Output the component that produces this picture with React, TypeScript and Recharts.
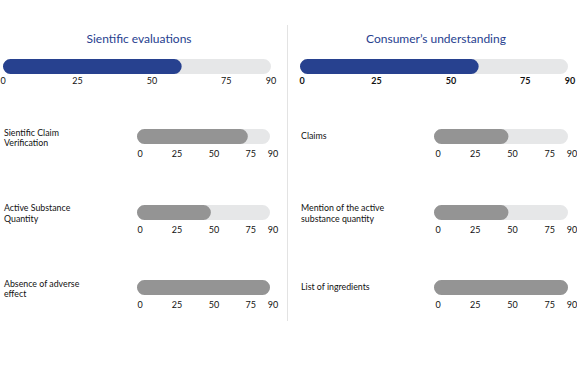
import React from 'react';
import { BarChart, Bar, XAxis, YAxis } from 'recharts';

const panelTitles = ['Sientific evaluations', 'Consumer’s understanding'];
const overallScores = [60, 60];
const leftCategories = ['Sientific Claim\nVerification', 'Active Substance\nQuantity', 'Absence of adverse\neffect'];
const leftValues = [75, 50, 90];
const rightCategories = ['Claims', 'Mention of the active\nsubstance quantity', 'List of ingredients'];
const rightValues = [50, 50, 90];
const axisTicks = [0, 25, 50, 75, 90];

const FONT = 'Lato, "Open Sans", sans-serif';
const BLUE = '#27418f';
const GRAY = '#949494';
const TRACK = '#e6e7e8';

type MiniProps = {
  name: string;
  value: number;
  fill: string;
  width: number;
  left: number;
  top: number;
  marginLeft: number;
  marginRight: number;
  tickMargin: number;
  tickDx: number;
  bold?: boolean;
};

function MiniBar({ name, value, fill, width, left, top, marginLeft, marginRight, tickMargin, tickDx, bold }: MiniProps) {
  const data = [{ name, value }];
  return (
    <div style={{ position: 'absolute', left, top }}>
      <BarChart
        width={width}
        height={40}
        data={data}
        layout="vertical"
        margin={{ top: 0, right: marginRight, left: marginLeft, bottom: 0 }}
      >
        <XAxis
          type="number"
          domain={[0, 90]}
          ticks={axisTicks}
          axisLine={false}
          tickLine={false}
          tickSize={0}
          tickMargin={tickMargin}
          height={23}
          interval={0}
          tick={{ fontSize: 9, fill: '#111', fontFamily: FONT, fontWeight: bold ? 700 : 400, dx: tickDx }}
        />
        <YAxis type="category" dataKey="name" hide />
        <Bar
          dataKey="value"
          fill={fill}
          barSize={15}
          radius={7.5}
          background={{ fill: TRACK, radius: 7.5 }}
          isAnimationActive={false}
        />
      </BarChart>
    </div>
  );
}

const rowCenters = [136.5, 212, 287.5];

export default function App() {
  return (
    <div style={{ position: 'absolute', left: 0, top: 0, width: 585, height: 383, background: '#fff', fontFamily: FONT, overflow: 'hidden' }}>
      {panelTitles.map((t, i) => (
        <div
          key={t}
          style={{
            position: 'absolute',
            left: i === 0 ? 39 : 336,
            width: 200,
            top: 31,
            textAlign: 'center',
            fontSize: 12,
            lineHeight: '16px',
            color: BLUE,
          }}
        >
          {t}
        </div>
      ))}
      <div style={{ position: 'absolute', left: 287, top: 25, width: 1, height: 296, background: '#e3e3e3' }} />

      <MiniBar name={panelTitles[0]} value={overallScores[0]} fill={BLUE} width={290} left={0} top={58} marginLeft={3} marginRight={19} tickMargin={3} tickDx={0} />
      <MiniBar name={panelTitles[1]} value={overallScores[1]} fill={BLUE} width={290} left={295} top={58} marginLeft={5} marginRight={17} tickMargin={3} tickDx={2} bold />

      {leftCategories.map((c, i) => (
        <React.Fragment key={c}>
          <div style={{ position: 'absolute', left: 4, top: rowCenters[i] - 9, fontSize: 8.8, lineHeight: '10.5px', whiteSpace: 'pre-line', color: '#111' }}>{c}</div>
          <MiniBar name={c} value={leftValues[i]} fill={GRAY} width={150} left={130} top={rowCenters[i] - 8.5} marginLeft={7} marginRight={10} tickMargin={6} tickDx={3} />
        </React.Fragment>
      ))}

      {rightCategories.map((c, i) => {
        const twoLine = c.includes('\n');
        return (
          <React.Fragment key={c}>
            <div style={{ position: 'absolute', left: 301, top: twoLine ? rowCenters[i] - 9 : rowCenters[i] - 5.5, fontSize: 8.8, lineHeight: '10.5px', whiteSpace: 'pre-line', color: '#111' }}>{c}</div>
            <MiniBar name={c} value={rightValues[i]} fill={GRAY} width={150} left={427} top={rowCenters[i] - 8.5} marginLeft={7} marginRight={9} tickMargin={6} tickDx={4} />
          </React.Fragment>
        );
      })}
    </div>
  );
}
